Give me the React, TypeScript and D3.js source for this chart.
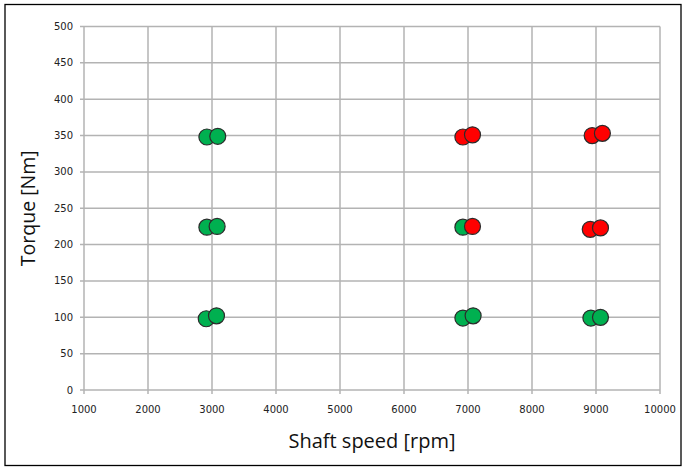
import React from "react";
import * as d3 from "d3";

const xTicks = [1000, 2000, 3000, 4000, 5000, 6000, 7000, 8000, 9000, 10000];
const yTicks = [0, 50, 100, 150, 200, 250, 300, 350, 400, 450, 500];

// Measured operating points: shaft speed [rpm], torque [Nm], pass(green)/fail(red)
const pointSpeeds = [
  2920, 3090, 2920, 3080, 2910, 3070,
  6920, 7070, 6920, 7070, 6920, 7080,
  8940, 9100, 8910, 9070, 8920, 9070,
];
const pointTorques = [
  348, 349, 224, 225, 98, 102,
  348, 351, 224, 225, 99, 102,
  350, 353, 221, 223, 99, 100,
];
const pointStatus = [
  "ok", "ok", "ok", "ok", "ok", "ok",
  "fail", "fail", "ok", "fail", "ok", "ok",
  "fail", "fail", "fail", "fail", "ok", "ok",
];

const W = 684;
const H = 467;
const left = 84;
const right = 660;
const top = 26.5;
const bottom = 390;

export default function App() {
  const x = d3.scaleLinear().domain([1000, 10000]).range([left, right]);
  const y = d3.scaleLinear().domain([0, 500]).range([bottom, top]);
  const grid = "#b3b3b3";
  const tickFont = "'DejaVu Sans', sans-serif";
  const pts = pointSpeeds.map((s, i) => ({ s, t: pointTorques[i], st: pointStatus[i] }));
  return (
    <svg
      width={W}
      height={H}
      style={{ position: "absolute", left: 0, top: 0, background: "#fff" }}
    >
      <rect x={0} y={0} width={W} height={H} fill="#fff" />
      <rect x={5} y={4.5} width={676} height={461} fill="none" stroke="#000" strokeWidth={1.3} />
      {xTicks.map((v) => (
        <line key={"gx" + v} x1={x(v)} x2={x(v)} y1={top} y2={bottom + 4} stroke={grid} strokeWidth={1.5} />
      ))}
      {yTicks.map((v) => (
        <line key={"gy" + v} x1={left - 4} x2={right} y1={y(v)} y2={y(v)} stroke={grid} strokeWidth={1.5} />
      ))}
      {yTicks.map((v) => (
        <text
          key={"ty" + v}
          x={73}
          y={y(v)}
          dy="0.35em"
          textAnchor="end"
          fontFamily={tickFont}
          fontSize={10}
          fill="#222"
        >
          {v}
        </text>
      ))}
      {xTicks.map((v) => (
        <text
          key={"tx" + v}
          x={x(v)}
          y={413}
          textAnchor="middle"
          fontFamily={tickFont}
          fontSize={10}
          fill="#222"
        >
          {v}
        </text>
      ))}
      {pts.map((p, i) => (
        <circle
          key={"p" + i}
          cx={x(p.s)}
          cy={y(p.t)}
          r={8}
          fill={p.st === "ok" ? "#00b050" : "#ff0000"}
          stroke="#2b2b2b"
          strokeWidth={1.2}
        />
      ))}
      <text
        x={0}
        y={0}
        transform={`translate(35, ${(top + bottom) / 2}) rotate(-90)`}
        textAnchor="middle"
        fontFamily="'Open Sans', sans-serif"
        fontSize={19.5}
        fill="#111"
      >
        Torque [Nm]
      </text>
      <text
        x={(left + right) / 2}
        y={448}
        textAnchor="middle"
        fontFamily="'Open Sans', sans-serif"
        fontSize={20}
        fill="#111"
      >
        Shaft speed [rpm]
      </text>
    </svg>
  );
}
